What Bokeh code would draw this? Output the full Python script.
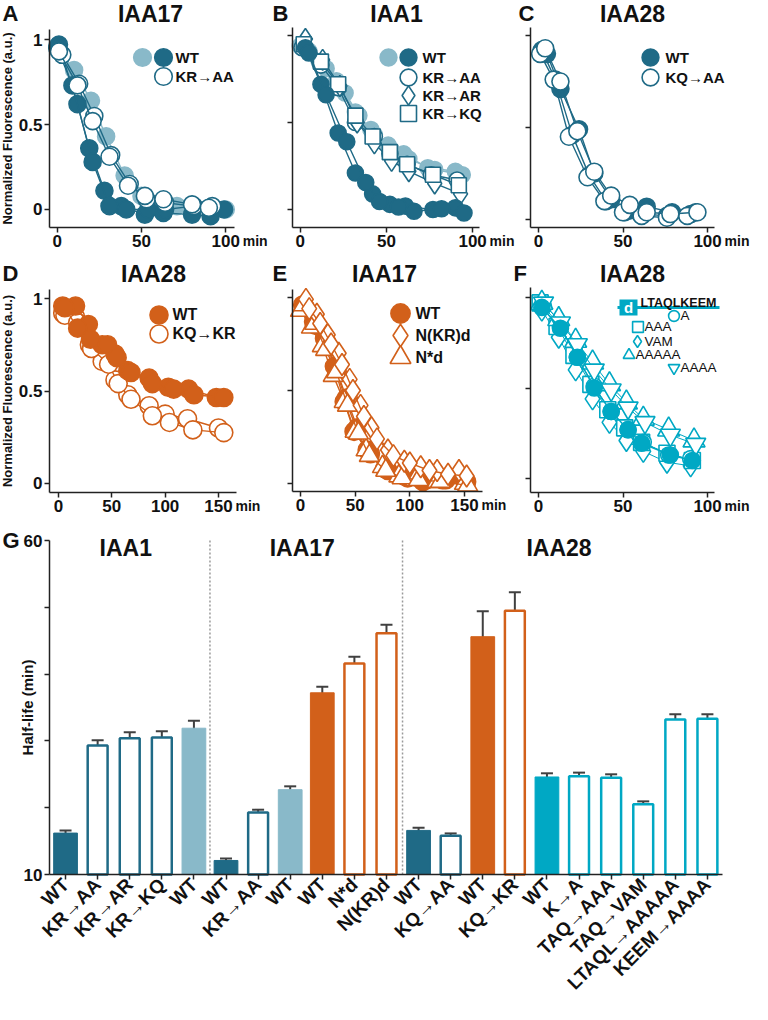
import math
from bokeh.plotting import figure
from bokeh.layouts import column, row
from bokeh.models import (Range1d, FixedTicker, Label, Legend, LegendItem,
                          Whisker, TeeHead, ColumnDataSource, BoxAnnotation,
                          PrintfTickFormatter)
from bokeh.embed import file_html
from bokeh.resources import INLINE

# ---------------------------------------------------------------- data
# Panel A - IAA17 (time in min, normalized fluorescence)
A_wt_light_t = [0, 10, 20, 29, 40, 50, 60, 71, 80, 90, 100]
A_wt_light_y = [0.96, 0.82, 0.64, 0.43, 0.20, 0.08, 0.03, 0.02, 0.02, 0.01, 0.00]
A_wt_dark1_t = [1, 12, 19, 28, 38, 52, 63, 80, 91]
A_wt_dark1_y = [0.97, 0.62, 0.36, 0.11, 0.02, -0.03, -0.02, -0.03, -0.04]
A_wt_dark2_t = [0, 9, 21, 31, 41, 54, 64, 81, 99]
A_wt_dark2_y = [0.95, 0.73, 0.28, 0.02, 0.00, 0.00, 0.00, 0.02, 0.00]
A_kraa1_t = [3, 13, 22, 32, 43, 53, 64, 81, 92]
A_kraa1_y = [0.91, 0.74, 0.55, 0.32, 0.15, 0.06, 0.04, 0.02, 0.02]
A_kraa2_t = [1, 12, 21, 31, 42, 52, 63, 80, 90]
A_kraa2_y = [0.93, 0.73, 0.52, 0.31, 0.14, 0.08, 0.06, 0.03, 0.01]

# Panel B - IAA1
B_wt_light1_t = [0, 11, 21, 32, 41, 51, 60, 74, 90]
B_wt_light1_y = [0.94, 0.85, 0.74, 0.56, 0.46, 0.37, 0.32, 0.24, 0.22]
B_wt_light2_t = [5, 15, 26, 34, 43, 53, 63, 78, 94]
B_wt_light2_y = [0.91, 0.81, 0.67, 0.54, 0.43, 0.34, 0.29, 0.23, 0.20]
B_wt_dark1_t = [3, 12, 22, 32, 42, 52, 61, 77, 90]
B_wt_dark1_y = [0.93, 0.72, 0.44, 0.21, 0.09, 0.03, 0.02, 0.00, 0.01]
B_wt_dark2_t = [5, 15, 27, 38, 46, 57, 66, 82, 95]
B_wt_dark2_y = [0.90, 0.66, 0.39, 0.155, 0.046, 0.015, -0.01, 0.005, -0.02]
B_kraa_t = [1, 12, 22, 32, 43, 52, 62, 76, 91]
B_kraa_y = [0.93, 0.83, 0.70, 0.50, 0.42, 0.32, 0.26, 0.20, 0.17]
B_krar_t = [3, 13, 23, 33, 43, 53, 63, 78, 93]
B_krar_y = [0.98, 0.86, 0.71, 0.50, 0.38, 0.28, 0.22, 0.15, 0.09]
B_krkq_t = [2, 12, 22, 32, 42, 52, 62, 77, 92]
B_krkq_y = [0.95, 0.85, 0.72, 0.54, 0.42, 0.33, 0.26, 0.20, 0.14]

# Panel C - IAA28
C_wt1_t = [5, 13, 24, 33, 43, 54, 64, 79, 93]
C_wt1_y = [0.90, 0.71, 0.49, 0.25, 0.11, 0.05, 0.07, 0.04, 0.04]
C_wt2_t = [2, 10, 20, 30, 40, 51, 62, 76, 90]
C_wt2_y = [0.92, 0.76, 0.46, 0.24, 0.10, 0.04, 0.03, 0.02, 0.03]
C_kqaa1_t = [1, 9, 18, 29, 39, 50, 61, 76, 88]
C_kqaa1_y = [0.90, 0.76, 0.45, 0.23, 0.10, 0.04, 0.02, 0.01, 0.02]
C_kqaa2_t = [4, 13, 23, 33, 43, 54, 64, 78, 94]
C_kqaa2_y = [0.93, 0.75, 0.48, 0.26, 0.13, 0.08, 0.04, 0.03, 0.04]

# Panel D - IAA28
D_wt1_t = [4, 16, 28, 41, 53, 65, 85, 103, 122, 148]
D_wt1_y = [0.96, 0.96, 0.86, 0.75, 0.70, 0.61, 0.57, 0.52, 0.51, 0.465]
D_wt2_t = [6, 18, 30, 46, 55, 68, 88, 108, 127, 155]
D_wt2_y = [0.95, 0.84, 0.78, 0.75, 0.68, 0.60, 0.54, 0.51, 0.48, 0.465]
D_kqkr1_t = [4, 16, 29, 41, 53, 65, 85, 100, 121, 150]
D_kqkr1_y = [0.92, 0.90, 0.75, 0.66, 0.56, 0.48, 0.42, 0.375, 0.35, 0.30]
D_kqkr2_t = [6, 18, 31, 47, 56, 68, 88, 104, 126, 155]
D_kqkr2_y = [0.91, 0.87, 0.73, 0.645, 0.54, 0.455, 0.366, 0.33, 0.29, 0.275]

# Panel E - IAA17
E_wt1_t = [2, 12, 22, 31, 40, 49, 61, 77, 95, 112, 130, 150]
E_wt1_y = [0.96, 0.87, 0.78, 0.63, 0.44, 0.28, 0.18, 0.08, 0.04, 0.01, 0.02, 0.02]
E_wt2_t = [4, 14, 24, 33, 42, 52, 64, 80, 98, 115, 133, 152]
E_wt2_y = [0.95, 0.85, 0.76, 0.61, 0.46, 0.30, 0.16, 0.07, 0.03, 0.02, 0.02, 0.01]
E_nkrd1_t = [5, 15, 25, 35, 45, 55, 65, 80, 95, 110, 125, 145]
E_nkrd1_y = [0.99, 0.91, 0.80, 0.70, 0.56, 0.42, 0.30, 0.18, 0.12, 0.09, 0.07, 0.07]
E_nkrd2_t = [8, 18, 28, 38, 48, 58, 70, 85, 100, 118, 135, 152]
E_nkrd2_y = [0.94, 0.86, 0.75, 0.64, 0.50, 0.36, 0.24, 0.15, 0.11, 0.07, 0.05, 0.04]
E_nsd1_t = [0, 10, 20, 30, 40, 50, 60, 75, 90, 105, 125, 150]
E_nsd1_y = [0.93, 0.84, 0.74, 0.58, 0.44, 0.28, 0.18, 0.09, 0.04, 0.02, 0.01, 0.00]
E_nsd2_t = [3, 13, 23, 33, 43, 53, 63, 78, 93, 108, 128, 153]
E_nsd2_y = [0.96, 0.86, 0.72, 0.60, 0.42, 0.27, 0.15, 0.07, 0.03, 0.02, 0.01, -0.01]

# Panel F - IAA28 degron variants
F_wt_t = [2, 13, 23, 33, 43, 53, 61, 78, 91]
F_wt_y = [0.945, 0.83, 0.67, 0.50, 0.37, 0.27, 0.195, 0.13, 0.10]
F_ka_t = [3, 13, 23, 33, 43, 53, 62, 77, 90]
F_ka_y = [0.95, 0.84, 0.67, 0.51, 0.37, 0.27, 0.20, 0.13, 0.11]
F_aaa_t = [1, 11, 21, 31, 41, 51, 61, 76, 91]
F_aaa_y = [0.97, 0.84, 0.68, 0.52, 0.38, 0.28, 0.20, 0.14, 0.10]
F_vam_t = [2, 12, 22, 32, 42, 52, 62, 76, 90]
F_vam_y = [0.93, 0.78, 0.60, 0.44, 0.31, 0.21, 0.15, 0.09, 0.07]
F_aaaaa_t = [2, 12, 22, 32, 42, 52, 62, 77, 92]
F_aaaaa_y = [0.97, 0.88, 0.76, 0.64, 0.52, 0.42, 0.33, 0.27, 0.21]
F_aaaa_t = [3, 13, 23, 33, 43, 53, 63, 78, 93]
F_aaaa_y = [0.97, 0.86, 0.74, 0.60, 0.49, 0.39, 0.31, 0.24, 0.19]

# Panel G - half-lives (min)
groups = ["IAA1", "IAA17", "IAA28"]
group_sizes = [5, 6, 10]
bar_labels = ["WT", "KR→AA", "KR→AR", "KR→KQ", "WT",
              "WT", "KR→AA", "WT", "WT", "N*d", "N(KR)d",
              "WT", "KQ→AA", "WT", "KQ→KR", "WT", "K→A", "TAQ→AAA",
              "TAQ→VAM", "LTAQL→AAAAA", "KEEM→AAAA"]
bar_half_life = [16.2, 29.3, 30.4, 30.5, 31.9,
                 12.1, 19.3, 22.7, 37.2, 41.6, 46.1,
                 16.6, 15.8, 45.6, 49.5, 24.6, 24.7, 24.5, 20.5, 33.2, 33.3]
bar_err = [0.4, 0.8, 0.9, 0.95, 1.1,
           0.3, 0.4, 0.5, 0.9, 1.0, 1.3,
           0.4, 0.35, 3.8, 2.75, 0.55, 0.55, 0.5, 0.45, 0.8, 0.7]
bar_filled = [1, 0, 0, 0, 1,
              1, 0, 1, 1, 0, 0,
              1, 0, 1, 0, 1, 0, 0, 0, 0, 0]

# ---------------------------------------------------------------- styles
FONT = "Liberation Sans"
INK = "#222222"
TXT = "#111111"
DARK = "#1f6a86"
LIGHT = "#89b9c9"
ORANGE = "#d2601a"
CYAN = "#00a8c4"
ERRC = "#404040"
bar_colors = [DARK, DARK, DARK, DARK, LIGHT,
              DARK, DARK, LIGHT, ORANGE, ORANGE, ORANGE,
              DARK, DARK, ORANGE, ORANGE, CYAN, CYAN, CYAN, CYAN, CYAN, CYAN]


class Panel:
    """A figure whose frame fills the canvas; axes are pinned at the data limits."""

    def __init__(self, fig_box, axis_box, xr, yr, xticks, yticks):
        self.fx0, self.fy0, self.fw, self.fh = fig_box
        ax0, ay0, ax1, ay1 = axis_box
        xlo, xhi = xr
        ylo, yhi = yr
        sx = (ax1 - ax0) / (xhi - xlo)
        sy = (ay1 - ay0) / (yhi - ylo)
        X = (xlo - (ax0 - self.fx0) / sx, xhi + (self.fx0 + self.fw - ax1) / sx)
        Y = (ylo - (self.fy0 + self.fh - ay1) / sy, yhi + (ay0 - self.fy0) / sy)
        self.ax0, self.ay1, self.sxu, self.xlo = ax0, ay1, sx, xlo
        p = figure(width=self.fw, height=self.fh, x_range=Range1d(*X), y_range=Range1d(*Y),
                   output_backend="svg", toolbar_location=None, title=None, min_border=0)
        p.grid.visible = False
        p.outline_line_color = None
        p.xaxis.fixed_location = ylo
        p.xaxis.bounds = (xlo, xhi)
        p.yaxis.fixed_location = xlo
        p.yaxis.bounds = (ylo, yhi)
        p.xaxis.ticker = FixedTicker(ticks=list(xticks))
        p.yaxis.ticker = FixedTicker(ticks=list(yticks))
        for ax in list(p.xaxis) + list(p.yaxis):
            ax.axis_line_color = INK
            ax.axis_line_width = 1.5
            ax.major_tick_line_color = INK
            ax.major_tick_line_width = 1.5
            ax.major_tick_out = 5
            ax.major_tick_in = 0
            ax.minor_tick_line_color = None
            ax.major_label_text_font = FONT
            ax.major_label_text_font_style = "bold"
            ax.major_label_text_font_size = "17px"
            ax.major_label_text_color = TXT
            ax.major_label_standoff = 2
            ax.axis_label_text_font = FONT
            ax.axis_label_text_font_style = "bold"
            ax.axis_label_text_color = TXT
        self.p = p

    def sx(self, x):
        return x - self.fx0

    def sy(self, y):
        return self.fy0 + self.fh - y

    def xabs(self, t):
        return self.ax0 + (t - self.xlo) * self.sxu

    def text(self, x, y, s, size, align="left", style="bold", color=TXT,
             baseline="middle", angle=0.0):
        self.p.add_layout(Label(x=self.sx(x), y=self.sy(y), x_units="screen", y_units="screen",
                                text=s, angle=angle, text_font=FONT, text_font_size=size,
                                text_font_style=style, text_color=color, text_align=align,
                                text_baseline=baseline))

    def key(self, r, cx, cy, g):
        self.p.add_layout(Legend(items=[LegendItem(label="", renderers=[r])],
                                 location=(self.sx(cx) - g / 2, self.sy(cy) - g / 2),
                                 glyph_width=g, glyph_height=g, label_width=0, label_height=0,
                                 label_standoff=0, padding=0, margin=0, spacing=0,
                                 border_line_color=None, background_fill_alpha=0,
                                 label_text_font_size="1px"))


def line_panel(fig_box, axis_box, xr, yr, xticks, letter, letter_xy, title, title_xy,
               ylabel=False):
    P = Panel(fig_box, axis_box, xr, yr, xticks, [0, 0.5, 1])
    p = P.p
    p.xaxis.formatter = PrintfTickFormatter(format="%d")
    if ylabel:
        p.yaxis.formatter = PrintfTickFormatter(format="%g")
        p.yaxis.axis_label = "Normalized Fluorescence (a.u.)"
        p.yaxis.axis_label_text_font_size = "13px"
        p.yaxis.axis_label_standoff = 1
    else:
        p.yaxis.major_label_overrides = {0: "", 0.5: "", 1: ""}
    P.text(letter_xy[0], letter_xy[1], letter, "22px")
    P.text(title_xy[0], title_xy[1], title, "23px", align="center")
    P.text(P.xabs(xticks[-1]) + 17, P.ay1 + 13, "min", "14px", baseline="alphabetic")
    return P


def series(p, t, y, marker, color, fill, size, line_color=None, lw=1.4):
    p.line(t, y, line_color=line_color or color, line_width=lw)
    return p.scatter(t, y, marker=marker, size=size, fill_color=fill,
                     line_color=color, line_width=1.6)


# ---------------------------------------------------------------- panel A
PA = line_panel((8, 8, 270, 258), (57, 37, 242, 235), (-4.6, 105.2), (-0.106, 1.059),
                [0, 50, 100], "A", (10, 21), "IAA17", (158, 21), ylabel=True)
p = PA.p
rAl = series(p, A_wt_light_t, A_wt_light_y, "circle", LIGHT, LIGHT, 17)
rAd = series(p, A_wt_dark1_t, A_wt_dark1_y, "circle", DARK, DARK, 17)
series(p, A_wt_dark2_t, A_wt_dark2_y, "circle", DARK, DARK, 17)
rAo = series(p, A_kraa1_t, A_kraa1_y, "circle", DARK, "white", 17)
series(p, A_kraa2_t, A_kraa2_y, "circle", DARK, "white", 17)
PA.key(rAl, 150, 65, 44)
PA.key(rAd, 171, 65, 44)
PA.key(rAo, 171, 84, 44)
PA.text(183, 65, "WT", "15px")
PA.text(183, 84, "KR→AA", "15px")

# ---------------------------------------------------------------- panel B
PB = line_panel((278, 8, 246, 258), (300, 35, 487, 235), (-4.5, 104), (-0.103, 1.046),
                [0, 50, 100], "B", (280, 21), "IAA1", (404, 21))
p = PB.p
rBl = series(p, B_wt_light1_t, B_wt_light1_y, "circle", LIGHT, LIGHT, 16)
series(p, B_wt_light2_t, B_wt_light2_y, "circle", LIGHT, LIGHT, 16)
rBa = series(p, B_kraa_t, B_kraa_y, "circle", DARK, "white", 16)
rBr = series(p, B_krar_t, B_krar_y, "diamond", DARK, "white", 21)
rBq = series(p, B_krkq_t, B_krkq_y, "square", DARK, "white", 15)
rBd = series(p, B_wt_dark1_t, B_wt_dark1_y, "circle", DARK, DARK, 16)
series(p, B_wt_dark2_t, B_wt_dark2_y, "circle", DARK, DARK, 16)
PB.key(rBl, 396, 65, 42)
PB.key(rBd, 416, 65, 42)
PB.key(rBa, 416, 85, 42)
PB.key(rBr, 416, 103, 48)
PB.key(rBq, 416, 121, 40)
for lab, yy in [("WT", 65), ("KR→AA", 85), ("KR→AR", 103), ("KR→KQ", 121)]:
    PB.text(430, yy, lab, "15px")

# ---------------------------------------------------------------- panel C
PC = line_panel((524, 8, 236, 258), (538, 35, 722, 235), (-4.7, 104.1), (-0.043, 1.043),
                [0, 50, 100], "C", (526, 21), "IAA28", (640, 21))
p = PC.p
rCd = series(p, C_wt1_t, C_wt1_y, "circle", DARK, DARK, 17)
series(p, C_wt2_t, C_wt2_y, "circle", DARK, DARK, 17)
rCo = series(p, C_kqaa1_t, C_kqaa1_y, "circle", DARK, "white", 17)
series(p, C_kqaa2_t, C_kqaa2_y, "circle", DARK, "white", 17)
PC.key(rCd, 658, 65, 42)
PC.key(rCo, 658, 85, 42)
PC.text(673, 65, "WT", "15px")
PC.text(673, 85, "KQ→AA", "15px")

# ---------------------------------------------------------------- panel D
PD = line_panel((8, 266, 262, 260), (57, 297, 244, 500), (-8.4, 166.9), (-0.049, 1.049),
                [0, 50, 100, 150], "D", (10, 281), "IAA28", (161, 281), ylabel=True)
p = PD.p
rDo = series(p, D_kqkr1_t, D_kqkr1_y, "circle", ORANGE, "white", 18)
series(p, D_kqkr2_t, D_kqkr2_y, "circle", ORANGE, "white", 18)
rDw = series(p, D_wt1_t, D_wt1_y, "circle", ORANGE, ORANGE, 18)
series(p, D_wt2_t, D_wt2_y, "circle", ORANGE, ORANGE, 18)
PD.key(rDw, 166, 322, 45)
PD.key(rDo, 166, 341, 45)
PD.text(180, 322, "WT", "16px")
PD.text(180, 341, "KQ→KR", "16px")

# ---------------------------------------------------------------- panel E
PE = line_panel((270, 266, 248, 260), (300, 297, 490, 499), (-7.3, 166.5), (-0.043, 1.043),
                [0, 50, 100, 150], "E", (280, 281), "IAA17", (392, 281))
p = PE.p
rEw = series(p, E_wt1_t, E_wt1_y, "circle", ORANGE, ORANGE, 18)
series(p, E_wt2_t, E_wt2_y, "circle", ORANGE, ORANGE, 18)
rEt = series(p, E_nsd1_t, E_nsd1_y, "triangle", ORANGE, "white", 20)
series(p, E_nsd2_t, E_nsd2_y, "triangle", ORANGE, "white", 20)
rEd = series(p, E_nkrd1_t, E_nkrd1_y, "diamond", ORANGE, "white", 22)
series(p, E_nkrd2_t, E_nkrd2_y, "diamond", ORANGE, "white", 22)
PE.key(rEw, 408, 321, 48)
PE.key(rEd, 408, 343, 56)
PE.key(rEt, 408, 365, 52)
for lab, yy in [("WT", 321), ("N(KR)d", 343), ("N*d", 365)]:
    PE.text(423, yy, lab, "16px")

# ---------------------------------------------------------------- panel F
PF = line_panel((518, 266, 242, 260), (538, 295, 722, 500), (-4.7, 104.1), (-0.077, 1.055),
                [0, 50, 100], "F", (521, 281), "IAA28", (640, 281))
p = PF.p
rFvam = series(p, F_vam_t, F_vam_y, "diamond", CYAN, "white", 22, lw=1.0)
rFaaa = series(p, F_aaa_t, F_aaa_y, "square", CYAN, "white", 16, lw=1.0)
rFka = series(p, F_ka_t, F_ka_y, "circle", CYAN, "white", 16, lw=1.0)
rFaaaaa = series(p, F_aaaaa_t, F_aaaaa_y, "triangle", CYAN, "white", 22, lw=1.0)
rFaaaa = series(p, F_aaaa_t, F_aaaa_y, "inverted_triangle", CYAN, "white", 20, lw=1.0)
series(p, F_wt_t, F_wt_y, "circle", CYAN, CYAN, 16)
# degron schematic
p.add_layout(BoxAnnotation(left=PF.sx(625), right=PF.sx(727), top=PF.sy(313.5), bottom=PF.sy(316.5),
                           left_units="screen", right_units="screen",
                           top_units="screen", bottom_units="screen",
                           fill_color=CYAN, fill_alpha=1, line_color=None))
p.add_layout(BoxAnnotation(left=PF.sx(627), right=PF.sx(645), top=PF.sy(307), bottom=PF.sy(323),
                           left_units="screen", right_units="screen",
                           top_units="screen", bottom_units="screen",
                           fill_color=CYAN, fill_alpha=1, line_color=None))
PF.text(636, 315, "d", "15px", align="center", color="white")
PF.text(686, 310, "LTAQLKEEM", "12.5px", align="center", baseline="alphabetic")
for rr, lab, cx, cy, g in [(rFka, "A", 681, 323, 27), (rFaaa, "AAA", 645, 334, 27),
                           (rFvam, "VAM", 645, 349, 30), (rFaaaaa, "AAAAA", 636, 362, 29),
                           (rFaaaa, "AAAA", 681, 375, 29)]:
    PF.key(rr, cx, cy, g)
    PF.text(cx + 7, cy, lab, "13.5px", style="normal")

# ---------------------------------------------------------------- panel G
G_YLO, G_YHI = 10, 60
idx = list(range(len(bar_labels)))
PG = Panel((8, 526, 752, 486), (57, 548, 730, 882), (-0.5, 20.47), (G_YLO, G_YHI),
           idx, [10, 20, 30, 40, 50, 60])
pG = PG.p
pG.yaxis.major_label_overrides = {20: "", 30: "", 40: "", 50: ""}
pG.xaxis.major_label_overrides = {i: bar_labels[i] for i in idx}
pG.xaxis.major_label_orientation = math.pi / 4
pG.xaxis.major_label_text_font_size = "19px"

fs = ColumnDataSource(dict(x=[i for i in idx if bar_filled[i]],
                           top=[bar_half_life[i] for i in idx if bar_filled[i]],
                           c=[bar_colors[i] for i in idx if bar_filled[i]]))
os_ = ColumnDataSource(dict(x=[i for i in idx if not bar_filled[i]],
                            top=[bar_half_life[i] for i in idx if not bar_filled[i]],
                            c=[bar_colors[i] for i in idx if not bar_filled[i]]))
pG.vbar(x="x", top="top", bottom=G_YLO, width=0.74, fill_color="c", line_color="c",
        line_width=1, source=fs)
pG.vbar(x="x", top="top", bottom=G_YLO, width=0.62, fill_color="white", line_color="c",
        line_width=2.5, source=os_)
es = ColumnDataSource(dict(x=idx,
                           upper=[v + e for v, e in zip(bar_half_life, bar_err)],
                           lower=[v - e for v, e in zip(bar_half_life, bar_err)]))
pG.add_layout(Whisker(source=es, base="x", upper="upper", lower="lower",
                      line_color=ERRC, line_width=2,
                      upper_head=TeeHead(size=12, line_color=ERRC, line_width=2),
                      lower_head=TeeHead(size=12, line_color=ERRC, line_width=2)))
div_x = []
start = 0
for gname, n in zip(groups, group_sizes):
    pG.add_layout(Label(x=start + (n - 1) / 2, y=PG.sy(555), x_units="data", y_units="screen",
                        text=gname, text_font=FONT, text_font_size="23px",
                        text_font_style="bold", text_color=TXT, text_align="center",
                        text_baseline="middle", x_offset=-4))
    if start + n < len(idx):
        div_x.append(start + n - 0.5)
    start += n
pG.segment(x0=div_x, y0=[G_YLO] * len(div_x), x1=div_x, y1=[G_YHI] * len(div_x),
           line_color="#9a9a9a", line_width=1.5, line_dash="2 2")
PG.text(10, 548, "G", "22px")
PG.text(35, 715, "Half-life (min)", "15px", align="center", angle=math.pi / 2)

layout = column(row(PA.p, PB.p, PC.p), row(PD.p, PE.p, PF.p), pG)
open("out.html", "w").write(file_html(layout, INLINE))
